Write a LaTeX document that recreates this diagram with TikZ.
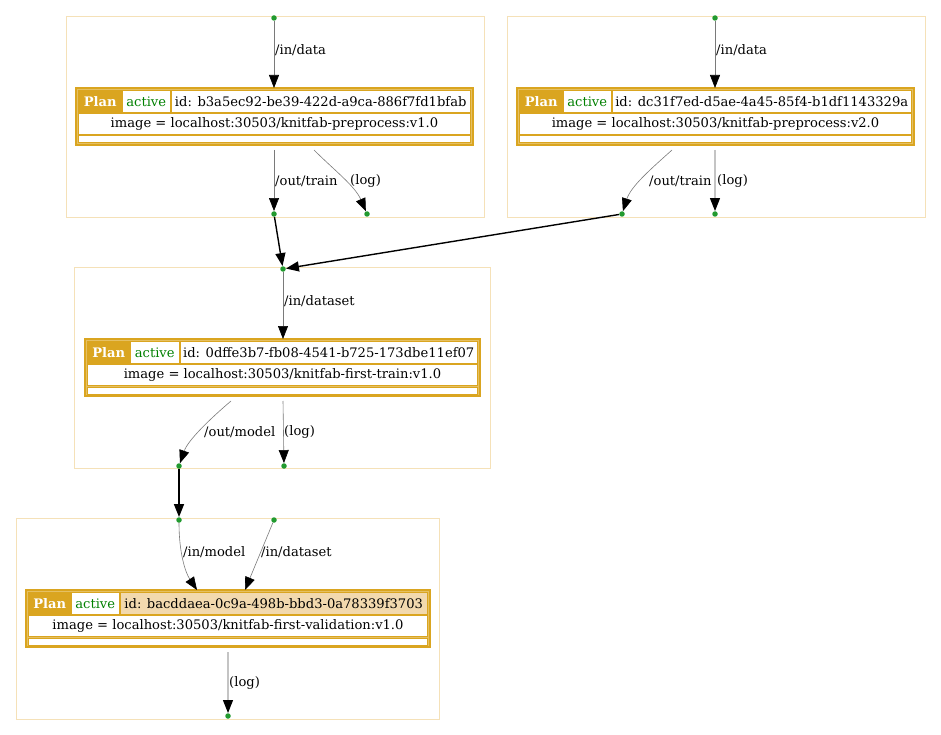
\documentclass[tikz,border=0pt]{standalone}
\usepackage{fontspec}
\setmainfont{DejaVu Serif}
\usetikzlibrary{arrows.meta}

\definecolor{goldenrod}{HTML}{DAA520}
\definecolor{wheat}{HTML}{F2D9AE}
\definecolor{clusterline}{HTML}{F5E1B8}
\definecolor{activegreen}{HTML}{008000}
\definecolor{dotgreen}{HTML}{229A2F}
\definecolor{edgegray}{HTML}{7A7A7A}
\definecolor{loggray}{HTML}{C4C4C4}

\tikzset{
  every node/.style={font=\fontsize{13.1}{15.5}\selectfont},
  cluster/.style={draw=clusterline, line width=0.8pt, inner sep=0pt},
  tablebox/.style={draw=goldenrod, line width=2pt, fill=goldenrod!70, inner sep=0pt},
  cellbox/.style={draw=goldenrod, line width=1pt, fill=white, inner sep=0pt},
  dot/.style={circle, fill=dotgreen, inner sep=0pt, minimum size=5.5pt},
  tip/.style={-{Triangle[length=13pt,width=10pt,color=black,fill=black]}},
  flow/.style={tip, draw=edgegray, line width=0.6pt},
  logflow/.style={tip, draw=loggray, line width=1.2pt},
  link/.style={-{Triangle[length=13pt,width=10pt]}, draw=black, line width=1.4pt},
  elabel/.style={anchor=west, inner sep=1pt},
}

% a rectangular cell: name, x0, y0, x1, y1, style, text
\newcommand\cellnode[7]{%
  \node[cellbox, #6, minimum width={(#4)-(#2)}, minimum height={(#5)-(#3)}]
    (#1) at ({((#2)+(#4))/2},{((#3)+(#5))/2}) {#7};}

% plan table: name, left, top, right, plan|state divider, state|id divider,
% id fill, id text, image text
\newcommand\plantable[9]{%
  \node[tablebox, minimum width={(#4)-(#2)}, minimum height=57]
    (#1) at ({((#2)+(#4))/2},{(#3)+28.5}) {};
  \cellnode{#1plan}{#2+2.5}{#3+2.5}{#5}{#3+24.5}
    {fill=goldenrod, text=white, font=\fontsize{13.1}{15.5}\selectfont\bfseries}{Plan}
  \cellnode{#1state}{#5+0.5}{#3+2.5}{#6}{#3+24.5}{text=activegreen}{active}
  \cellnode{#1id}{#6+1}{#3+2.5}{#4-2.5}{#3+24.5}{fill=#7}{id: #8}
  \cellnode{#1img}{#2+2.5}{#3+25.5}{#4-2.5}{#3+46.5}{}{image = #9}
  \cellnode{#1foot}{#2+2.5}{#3+48}{#4-2.5}{#3+55}{}{}
}

% cluster frame: name, x0, y0, x1, y1
\newcommand\clusterbox[5]{%
  \node[cluster, minimum width={(#4)-(#2)}, minimum height={(#5)-(#3)}]
    (#1) at ({((#2)+(#4))/2},{((#3)+(#5))/2}) {};}

\begin{document}
\begin{tikzpicture}[x=1pt,y=-1pt]
\useasboundingbox (0,0) rectangle (941,735);

% cluster frames
\clusterbox{c1}{66}{16}{484}{217}
\clusterbox{c2}{507}{16}{925}{217}
\clusterbox{c3}{74}{267}{490}{468}
\clusterbox{c4}{16}{518}{439}{719}

% plan tables
\plantable{p1}{76}{88}{473}{122}{170}{white}{b3a5ec92-be39-422d-a9ca-886f7fd1bfab}{localhost:30503/knitfab-preprocess:v1.0}
\plantable{p2}{517}{88}{914}{563}{611}{white}{dc31f7ed-d5ae-4a45-85f4-b1df1143329a}{localhost:30503/knitfab-preprocess:v2.0}
\plantable{p3}{85}{339}{480}{130}{179}{white}{0dffe3b7-fb08-4541-b725-173dbe11ef07}{localhost:30503/knitfab-first-train:v1.0}
\plantable{p4}{26}{590}{430}{71}{119}{wheat}{bacddaea-0c9a-498b-bbd3-0a78339f3703}{localhost:30503/knitfab-first-validation:v1.0}

% data points
\node[dot] (d1in) at (274,18) {};
\node[dot] (d1train) at (274,214) {};
\node[dot] (d1log) at (367,214) {};
\node[dot] (d2in) at (715,18) {};
\node[dot] (d2train) at (622,214) {};
\node[dot] (d2log) at (715,214) {};
\node[dot] (d3in) at (283,269) {};
\node[dot] (d3model) at (179,466) {};
\node[dot] (d3log) at (284,466) {};
\node[dot] (d4model) at (179,520) {};
\node[dot] (d4data) at (274,520) {};
\node[dot] (d4log) at (228,716) {};

% table ports
\coordinate (p1in) at (274,88);
\coordinate (p1o1) at (274,150);
\coordinate (p1o2) at (314,150);
\coordinate (p2in) at (715,88);
\coordinate (p2o1) at (672,150);
\coordinate (p2o2) at (715,150);
\coordinate (p3in) at (283,339);
\coordinate (p3o1) at (231,401);
\coordinate (p3o2) at (283,401);
\coordinate (p4i1) at (197,590);
\coordinate (p4i2) at (245,590);
\coordinate (p4o) at (228,652);

% preprocess v1.0
\draw[flow] (d1in) -- (p1in);
\node[elabel] (l1in) at (274,50) {/in/data};
\draw[flow] (p1o1) -- (d1train);
\node[elabel] (l1train) at (274,181) {/out/train};
\draw[flow] (p1o2) .. controls (334,170) and (355,186) .. (d1log);
\node[elabel] (l1log) at (349,181) {(log)};

% preprocess v2.0
\draw[flow] (d2in) -- (p2in);
\node[elabel] (l2in) at (715,50) {/in/data};
\draw[flow] (p2o1) .. controls (652,168) and (631,186) .. (d2train);
\node[elabel] (l2train) at (648,181) {/out/train};
\draw[logflow] (p2o2) -- (d2log);
\node[elabel] (l2log) at (716,181) {(log)};

% training
\draw[link] (d1train) -- (d3in);
\draw[link] (d2train) -- (d3in);
\draw[flow] (d3in) -- (p3in);
\node[elabel] (l3in) at (283,301) {/in/dataset};
\draw[flow] (p3o1) .. controls (211,418) and (188,440) .. (d3model);
\node[elabel] (l3model) at (203,432) {/out/model};
\draw[flow] (p3o2) -- (d3log);
\node[elabel] (l3log) at (283,432) {(log)};

% validation
\draw[link] (d3model) -- (d4model);
\draw[flow] (d4model) .. controls (179,552) and (185,572) .. (p4i1);
\node[elabel] (l4model) at (182,552) {/in/model};
\draw[flow] (d4data) -- (p4i2);
\node[elabel] (l4data) at (260,552) {/in/dataset};
\draw[logflow] (p4o) -- (d4log);
\node[elabel] (l4log) at (228,683) {(log)};
\end{tikzpicture}
\end{document}
